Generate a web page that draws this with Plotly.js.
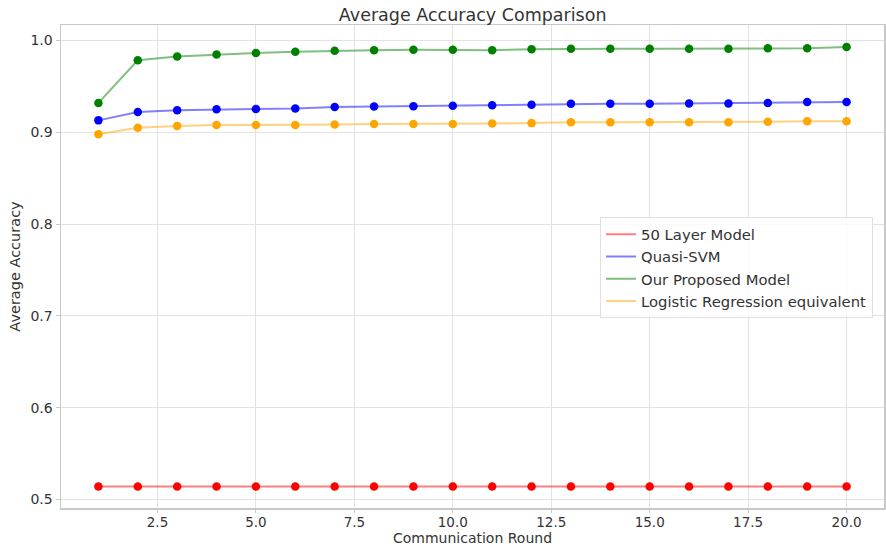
<!DOCTYPE html>
<html>
<head>
<meta charset="utf-8">
<script src="https://cdn.plot.ly/plotly-3.0.1.min.js"></script>
<style>html,body{margin:0;padding:0;background:#fff;}#chart{width:886px;height:546px;}</style>
</head>
<body>
<div id="chart"></div>
<script>
const rounds = [1,2,3,4,5,6,7,8,9,10,11,12,13,14,15,16,17,18,19,20];
const layer50 = [0.514,0.514,0.514,0.514,0.514,0.514,0.514,0.514,0.514,0.514,0.514,0.514,0.514,0.514,0.514,0.514,0.514,0.514,0.514,0.514];
const quasiSVM = [0.913,0.922,0.924,0.925,0.9255,0.926,0.9275,0.928,0.9285,0.929,0.9295,0.930,0.931,0.931,0.931,0.9315,0.9315,0.932,0.933,0.933];
const proposed = [0.932,0.9785,0.9825,0.9847,0.9865,0.9877,0.9888,0.9895,0.990,0.990,0.9895,0.9905,0.991,0.991,0.991,0.991,0.991,0.9915,0.9915,0.993];
const logistic = [0.898,0.905,0.907,0.908,0.908,0.908,0.9085,0.909,0.909,0.909,0.9095,0.910,0.911,0.911,0.911,0.911,0.911,0.9115,0.912,0.912];
const seriesNames = ["50 Layer Model","Quasi-SVM","Our Proposed Model","Logistic Regression equivalent"];
const seriesColors = ["#ff0000","#0000ff","#008000","#ffa500"];
const seriesValues = [layer50, quasiSVM, proposed, logistic];

const traces = [];
seriesValues.forEach((vals, i) => {
  traces.push({x: rounds, y: vals, mode: "lines", name: seriesNames[i],
    line: {color: seriesColors[i], width: 2}, opacity: 0.5, showlegend: true});
});
seriesValues.forEach((vals, i) => {
  traces.push({x: rounds, y: vals, mode: "markers", name: seriesNames[i],
    marker: {color: seriesColors[i], size: 8.5}, showlegend: false, hoverinfo: "skip"});
});

const font = {family: "DejaVu Sans, sans-serif", color: "#333"};
const layout = {
  width: 886, height: 546,
  margin: {l: 61, r: 2, t: 25, b: 38},
  paper_bgcolor: "#fff", plot_bgcolor: "#fff",
  font: Object.assign({size: 14}, font),
  title: {text: "Average Accuracy Comparison", x: 0.5335, xanchor: "center", y: 0.972, yanchor: "middle",
    font: Object.assign({}, font, {size: 17.5})},
  xaxis: {
    range: [0.05, 20.95], tick0: 2.5, dtick: 2.5, tickformat: ".1f",
    showgrid: true, gridcolor: "#e3e3e3", gridwidth: 1, zeroline: false,
    showline: true, linecolor: "#c8c8c8", linewidth: 1.5, mirror: true,
    ticks: "outside", ticklen: 3, tickcolor: "#c8c8c8", ticklabelstandoff: -2,
    tickfont: Object.assign({}, font, {size: 13.5}),
    title: {text: "Communication Round", standoff: 0, font: Object.assign({}, font, {size: 14})}
  },
  yaxis: {
    range: [0.4907, 1.0169], tick0: 0.5, dtick: 0.1, tickformat: ".1f",
    showgrid: true, gridcolor: "#e3e3e3", gridwidth: 1, zeroline: false,
    showline: true, linecolor: "#c8c8c8", linewidth: 1.5, mirror: true,
    ticks: "outside", ticklen: 4, tickcolor: "#c8c8c8",
    tickfont: Object.assign({}, font, {size: 14}),
    title: {text: "Average Accuracy", standoff: 6, font: Object.assign({}, font, {size: 14.5})}
  },
  legend: {x: 0.655, y: 0.602, xanchor: "left", yanchor: "top",
    bgcolor: "rgba(255,255,255,0.8)", bordercolor: "#e0e0e0", borderwidth: 1,
    font: Object.assign({}, font, {size: 14.8}), tracegroupgap: 0}
};
Plotly.newPlot("chart", traces, layout, {displayModeBar: false, staticPlot: true});
</script>
</body>
</html>
